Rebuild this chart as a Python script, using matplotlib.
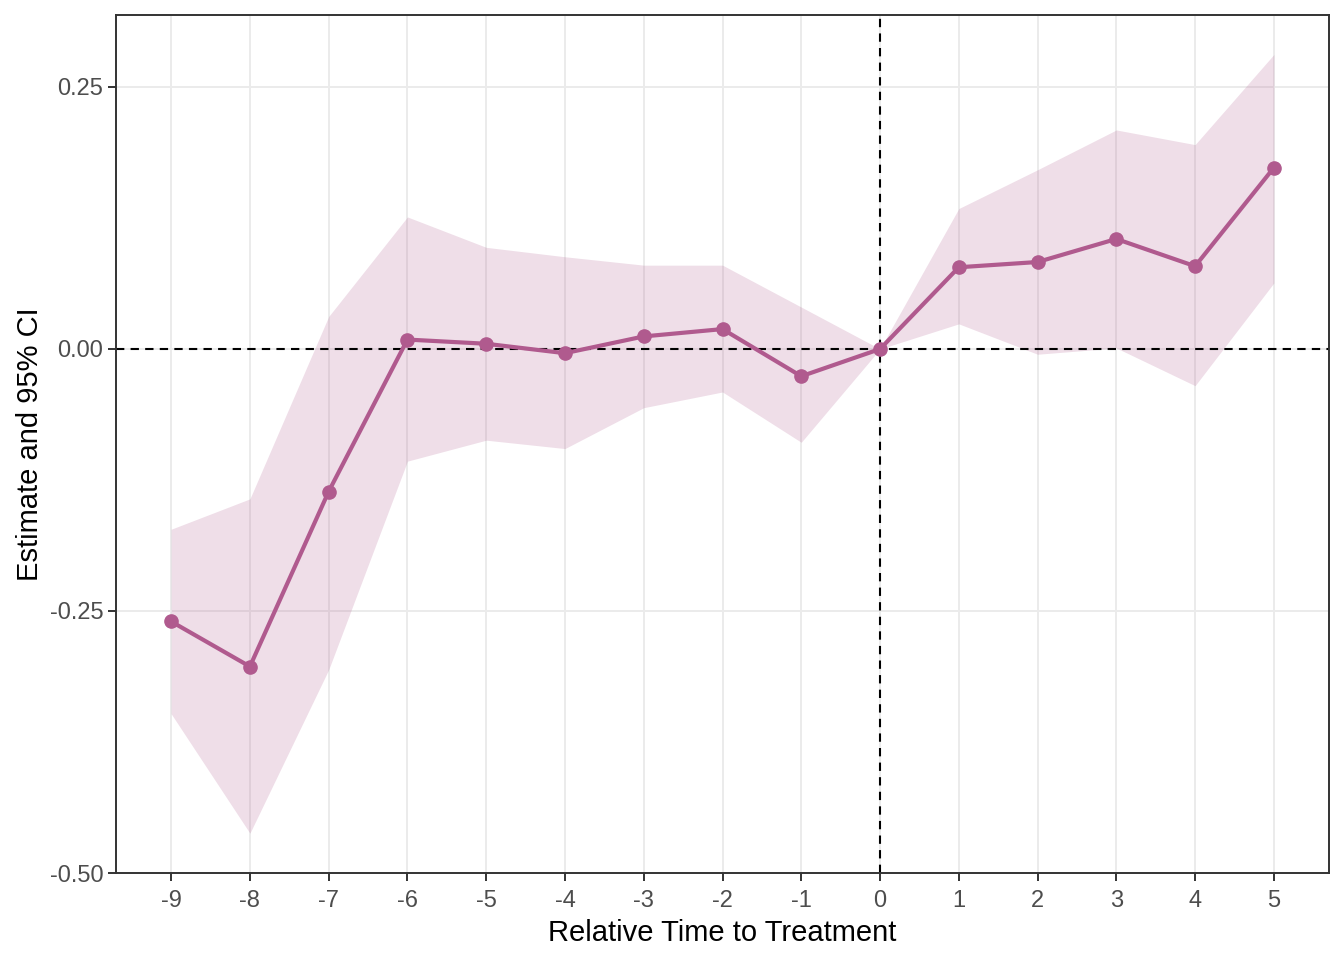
import numpy as np
import matplotlib
matplotlib.use("Agg")
from matplotlib import pyplot as plt

# event-study estimates
rel_time = [-9, -8, -7, -6, -5, -4, -3, -2, -1, 0, 1, 2, 3, 4, 5]
estimate = [-0.260, -0.303, -0.136, 0.009, 0.005, -0.004, 0.012, 0.019, -0.026, 0.0,
            0.078, 0.083, 0.105, 0.079, 0.173]
ci_upper = [-0.172, -0.143, 0.031, 0.126, 0.097, 0.088, 0.080, 0.080, 0.040, 0.0,
            0.134, 0.171, 0.209, 0.195, 0.281]
ci_lower = [-0.348, -0.462, -0.306, -0.107, -0.087, -0.095, -0.056, -0.041, -0.089, 0.0,
            0.024, -0.005, 0.001, -0.035, 0.063]
y_ticks = [-0.50, -0.25, 0.00, 0.25]

col = "#B05A8E"
plt.rcParams['font.family'] = ['Liberation Sans', 'DejaVu Sans']

fig = plt.figure(figsize=(13.44, 9.6), dpi=100)
ax = fig.add_axes([116/1344, 1-873/960, (1329-116)/1344, (873-15)/960])

ax.grid(True, color="#EBEBEB", linewidth=1.4, zorder=0)
ax.set_axisbelow(True)
ax.fill_between(rel_time, ci_lower, ci_upper, color=col, alpha=0.2, linewidth=0, zorder=1)
ax.axhline(0, color="black", linestyle=(0, (4, 3)), linewidth=1.5, zorder=2)
ax.axvline(0, color="black", linestyle=(0, (4, 3)), linewidth=1.5, zorder=2)
ax.plot(rel_time, estimate, color=col, linewidth=3, marker="o", markersize=9.5, zorder=3)

ax.set_xlim(-9.7, 5.7)
ax.set_ylim(-0.5, 0.3187)
ax.set_xticks(rel_time)
ax.set_xticklabels([str(t) for t in rel_time])
ax.set_yticks(y_ticks)
ax.set_yticklabels(["%.2f" % v for v in y_ticks])
ax.tick_params(colors="#333333", labelcolor="#4D4D4D", labelsize=17, length=6, width=1.4, pad=3)
ax.tick_params(axis="x", pad=6)
for s in ax.spines.values():
    s.set_color("#333333")
    s.set_linewidth(1.4)

ax.set_xlabel("Relative Time to Treatment", fontsize=21, labelpad=5)
ax.set_ylabel("Estimate and 95% CI", fontsize=21, labelpad=4)

fig.savefig("out.png", dpi=100)
